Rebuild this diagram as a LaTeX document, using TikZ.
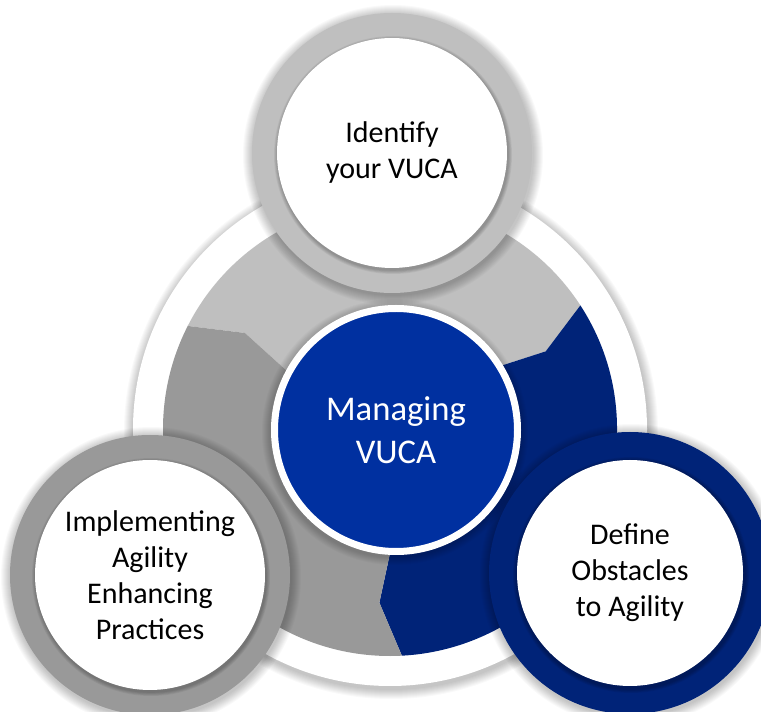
\documentclass[tikz,border=0pt]{standalone}
\usepackage{fontspec}
\setmainfont{Carlito}
\definecolor{lgray}{HTML}{BFBFBF}
\definecolor{mgray}{HTML}{999999}
\definecolor{navy}{HTML}{002378}
\definecolor{hubblue}{HTML}{0030A0}
\tikzset{
  stepnode/.style={circle, fill=white, minimum size=172.5pt, inner sep=0pt, align=center,
    font=\fontsize{22.5}{27}\selectfont, text=black},
  hubnode/.style={circle, fill=hubblue, draw=white, line width=5.25pt, minimum size=182.25pt,
    inner sep=0pt, align=center, text=white, font=\fontsize{26}{32}\selectfont},
  glow/.style={black, opacity=0.024}
}
\begin{document}
\begin{tikzpicture}[x=0.75pt,y=0.75pt]
\useasboundingbox (0,0) rectangle (761,711);
\fill[white] (0,0) rectangle (761,711);

% white back disk with soft shadow
\foreach \i in {1,...,10} \fill[glow] (391,279) circle ({257+\i});
\fill[white] (390,282) circle (257);

% segmented ring (chevron boundaries)
\begin{scope}[shift={(390,282)}]
  \fill[lgray] (153:227) arc[start angle=153, end angle=33, radius=227] -- (26.5:174) -- (33:100)
     arc[start angle=33, end angle=153, radius=100] -- (146.5:174) -- cycle;
  \fill[navy] (33:227) arc[start angle=33, end angle=-87, radius=227] -- (-93.5:174) -- (-87:100)
     arc[start angle=-87, end angle=33, radius=100] -- (26.5:174) -- cycle;
  \fill[mgray] (-87:227) arc[start angle=-87, end angle=-207, radius=227] -- (-213.5:174) -- (-207:100)
     arc[start angle=-207, end angle=-87, radius=100] -- (-93.5:174) -- cycle;
\end{scope}

% hub
\foreach \i in {1,...,8} \fill[glow] (395,279) circle ({125+\i});
\node[hubnode] (hub) at (396,281) {Managing\\VUCA};

% top step
\foreach \i in {1,...,10} \fill[glow] (393,556) circle ({140+\i});
\fill[lgray] (392,558) circle (140);
\foreach \i in {1,...,5} \fill[black, opacity=0.05] (393,556) circle ({115+0.8*\i});
\node[stepnode] (identify) at (392,558) {Identify\\your VUCA};

% left step
\foreach \i in {1,...,10} \fill[glow] (151,134) circle ({140+\i});
\fill[mgray] (150,136) circle (140);
\foreach \i in {1,...,5} \fill[black, opacity=0.05] (151,134) circle ({115+0.8*\i});
\node[stepnode] (implement) at (150,136) {Implementing\\Agility\\Enhancing\\Practices};

% right step
\foreach \i in {1,...,10} \fill[glow] (631,136) circle ({141+\i});
\fill[navy] (630,138) circle (141);
\foreach \i in {1,...,5} \fill[black, opacity=0.05] (631,136) circle ({114+0.8*\i});
\node[stepnode, minimum size=169.5pt] (define) at (630,138) {Define\\Obstacles\\to Agility};
\end{tikzpicture}
\end{document}
